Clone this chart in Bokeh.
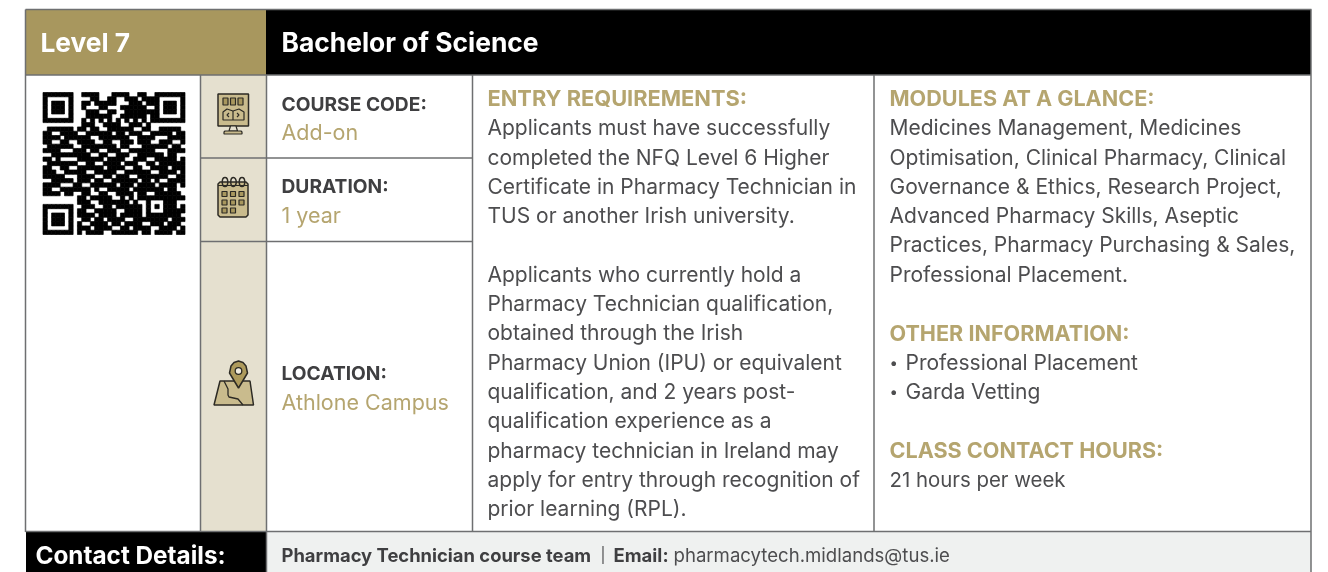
from bokeh.plotting import figure
from bokeh.embed import file_html
from bokeh.resources import INLINE
from bokeh.core.properties import value
from bokeh.models import Range1d

# ---------- content ----------
HEAD_LEFT = "Level 7"
HEAD_RIGHT = "Bachelor of Science"
FACT_LABELS = ["COURSE CODE:", "DURATION:", "LOCATION:"]
FACT_VALUES = ["Add-on", "1 year", "Athlone Campus"]
ENTRY_TITLE = "ENTRY REQUIREMENTS:"
ENTRY_LINES = ["Applicants must have successfully", "completed the NFQ Level 6 Higher",
               "Certificate in Pharmacy Technician in", "TUS or another Irish university.", "",
               "Applicants who currently hold a", "Pharmacy Technician qualification,",
               "obtained through the Irish", "Pharmacy Union (IPU) or equivalent",
               "qualification, and 2 years post-", "qualification experience as a",
               "pharmacy technician in Ireland may", "apply for entry through recognition of",
               "prior learning (RPL)."]
MOD_TITLE = "MODULES AT A GLANCE:"
MOD_LINES = ["Medicines Management, Medicines", "Optimisation, Clinical Pharmacy, Clinical",
             "Governance & Ethics, Research Project,", "Advanced Pharmacy Skills, Aseptic",
             "Practices, Pharmacy Purchasing & Sales,", "Professional Placement."]
OTHER_TITLE = "OTHER INFORMATION:"
OTHER_LINES = ["Professional Placement", "Garda Vetting"]
HOURS_TITLE = "CLASS CONTACT HOURS:"
HOURS_LINE = "21 hours per week"
CONTACT = "Contact Details:"
TEAM = "Pharmacy Technician course team"
EMAIL_LABEL = "Email:"
EMAIL = "pharmacytech.midlands@tus.ie"

QR = [
 "000000000111100011110011000000000",
 "000000000001100110011101110000000",
 "000000000110111110001110110000000",
 "000000000100011000111111000000000",
 "000000000011100110011111110000000",
 "000000000011111100111111010000000",
 "000000000101010101010101010000000",
 "000000000111001111001110100000000",
 "011111101101100111111001100111110",
 "110011110011111101101110011111011",
 "111101111110011111110011110001111",
 "110011001111001100111011100111001",
 "011111100111111110110001111110110",
 "111100011101100111001111110001111",
 "001111111110011001110011111101100",
 "110100001111110111100111001111101",
 "011111110011001111011100110111111",
 "110011001111110111100110011110111",
 "111001111100111110011111100111101",
 "111110001111001101110011111110011",
 "001111101110110011111101101001111",
 "111100011001111110111011110111101",
 "110011111110100111110111111101100",
 "111101100110011001111011001111110",
 "000000001101111100101011000001111",
 "000000001110011111110100000001100",
 "000000000111001101111110000001101",
 "000000001100111110011110000001111",
 "000000001111011110111110000001110",
 "000000000110110111100111111110111",
 "000000001001111011011110011101110",
 "000000001110111100110111100111101",
 "000000001011110011111101101111011",
]

GOLD_HEAD = "#a8975e"
GOLD_TEXT = "#b5a56f"
BEIGE = "#e5e0cf"
GREY = "#eff1f0"
RULE = "#6e6f71"
BODY = "#4d4d4f"
DARK = "#3f3f41"
FONT = "Inter"
ICON_LINE = "#2c2a24"
ICON_FILL = "#c9bb8d"

p = figure(width=1328, height=572, x_range=Range1d(0, 1328), y_range=Range1d(572, 0),
           min_border=0, outline_line_color=None, toolbar_location=None,
           output_backend="svg", background_fill_color="white", border_fill_color="white")
p.xaxis.visible = False
p.yaxis.visible = False
p.xgrid.visible = False
p.ygrid.visible = False
p.styles = {"position": "fixed", "left": "0", "top": "0"}


def box(l, t, r, b, color):
    p.quad(left=[l], right=[r], top=[t], bottom=[b], fill_color=color, line_color=None)


def rule(xs, ys):
    p.line(xs, ys, line_color=RULE, line_width=1.5)


def txt(x, y, s, size, color=BODY, style="normal"):
    p.text([x], [y], text=[s], text_font=value(FONT), text_font_size=f"{size}px",
           text_color=color, text_font_style=style, text_baseline="alphabetic", text_align="left")


# ---------- panels ----------
box(25.5, 9.5, 265.5, 74.5, GOLD_HEAD)
box(265.5, 9.5, 1310.5, 74.5, "black")
box(200, 74.5, 265.5, 531.5, BEIGE)
box(25.5, 531.5, 265.5, 572, "black")
box(266.5, 531.5, 1310.5, 572, GREY)

rule([25, 1311], [9, 9])
rule([25, 25], [9, 531.5])
rule([1310.5, 1310.5], [9, 572])
rule([25, 1310.5], [74.5, 74.5])
rule([25, 1310.5], [531, 531])
for x in (200, 266, 472, 873.5):
    rule([x, x], [74.5, 531.5])
for y in (157.5, 241):
    rule([200, 472], [y, y])
rule([266, 266], [531.5, 572])

# ---------- QR ----------
M = [[int(c) for c in row] for row in QR]


def stamp(r0, c0):
    for r in range(7):
        for c in range(7):
            edge = r in (0, 6) or c in (0, 6)
            core = 2 <= r <= 4 and 2 <= c <= 4
            M[r0 + r][c0 + c] = 1 if edge or core else 0


stamp(0, 0)
stamp(0, 26)
stamp(26, 0)
for r in range(5):
    for c in range(5):
        M[24 + r][24 + c] = 1 if r in (0, 4) or c in (0, 4) or (r == 2 and c == 2) else 0

q = 142.0 / 33
qx0, qy0 = 42.5, 92
L, R, T, B = [], [], [], []
for r, row in enumerate(M):
    for c, v in enumerate(row):
        if v:
            L.append(qx0 + c * q); R.append(qx0 + (c + 1) * q)
            T.append(qy0 + r * q); B.append(qy0 + (r + 1) * q)
p.quad(left=L, right=R, top=T, bottom=B, fill_color="black", line_color="black", line_width=0.7)


# ---------- icons ----------
def poly(xs, ys, fill=ICON_FILL, lw=1.5):
    p.patch(xs, ys, fill_color=fill, line_color=ICON_LINE, line_width=lw)


def small(l, t, w, h):
    poly([l, l + w, l + w, l], [t, t, t + h, t + h], fill="#a8975e", lw=1.2)


# monitor
poly([217.5, 248, 248, 217.5], [93.5, 93.5, 125.5, 125.5])
poly([230, 235.5, 237, 228.5], [125.5, 125.5, 130.5, 130.5], fill="#e5e0cf", lw=1.2)
poly([224.5, 240.5, 241.5, 241.5, 223.5, 223.5], [130.5, 130.5, 131.5, 133.5, 133.5, 131.5], lw=1.2)
for x in (222.5, 230, 237.5):
    small(x, 97.5, 5, 7)
poly([222.5, 226.5, 232.5, 238.5, 243.5, 243.5, 232.5, 222.5],
     [111.5, 108.5, 110.5, 108.5, 111.5, 119.5, 119.5, 119.5], lw=1.2)
p.line([232.5, 232.5], [110.5, 119.5], line_color=ICON_LINE, line_width=1.2)
p.line([228.5, 226.5, 228.5], [112.5, 114.5, 116.5], line_color=ICON_LINE, line_width=1.1)
p.line([236.5, 238.5, 236.5], [112.5, 114.5, 116.5], line_color=ICON_LINE, line_width=1.1)

# calendar
poly([219.5, 245.5, 247.5, 247.5, 245.5, 219.5, 217.5, 217.5],
     [181.5, 181.5, 183.5, 214.5, 216.5, 216.5, 214.5, 183.5])
for x in (224.5, 233, 241.5):
    p.ellipse([x], [181.5], width=5.5, height=9, fill_color=None, line_color=ICON_LINE, line_width=1.5)
p.line([217.5, 247.5], [185, 185], line_color=ICON_LINE, line_width=1.2)
for y in (191, 199.5, 207.5):
    for x in (221.5, 230, 238.5):
        if not (y == 207.5 and x == 238.5):
            small(x, y, 5, 5)

# map
poly([219.5, 249.5, 253, 213.5], [380.5, 380.5, 404.5, 404.5])
p.line([223.5, 227.5, 227.5, 228.5, 237.5, 242.5], [380.5, 388.5, 394.5, 396.5, 398.5, 404.5],
       line_color=ICON_LINE, line_width=1.3)
poly([238, 229, 230.5, 233.5, 238, 242.5, 245.5, 247],
     [387.5, 372.5, 365.5, 362, 360.5, 362, 365.5, 372.5], fill="#ad9a5c")
p.circle([238], [370.5], radius=3.3, fill_color="#f0ecdf", line_color=ICON_LINE, line_width=1.3)

# ---------- text ----------
txt(40, 41.5, HEAD_LEFT, 26.3, "white", "bold")
txt(281, 41.5, HEAD_RIGHT, 26.4, "white", "bold")

for label, val, yl, yv in zip(FACT_LABELS, FACT_VALUES, (103, 185.5, 372.5), (131, 214, 401)):
    txt(281, yl, label, 19.2, DARK, "bold")
    txt(281, yv, val, 21.5, GOLD_TEXT)

LINE = 29.3
TITLE = 21.8
TEXT = 21.0
txt(487, 97.5, ENTRY_TITLE, TITLE, GOLD_TEXT, "bold")
for i, s in enumerate(ENTRY_LINES):
    if s:
        txt(487, 127.2 + i * LINE, s, TEXT)

txt(889, 97.5, MOD_TITLE, 21.6, GOLD_TEXT, "bold")
for i, s in enumerate(MOD_LINES):
    txt(889, 127.2 + i * LINE, s, TEXT)

txt(889, 332.5, OTHER_TITLE, 21.6, GOLD_TEXT, "bold")
for i, s in enumerate(OTHER_LINES):
    txt(889, 362 + i * LINE, "•", 15)
    txt(905, 362 + i * LINE, s, TEXT)

txt(889, 449.5, HOURS_TITLE, 21.6, GOLD_TEXT, "bold")
txt(889, 479, HOURS_LINE, 20.4)

txt(35, 554, CONTACT, 24.3, "white", "bold")
txt(281, 554, TEAM, 18.4, DARK, "bold")
txt(600, 554, "|", 15, BODY)
txt(613, 554, EMAIL_LABEL, 18.5, DARK, "bold")
txt(673, 554, EMAIL, 18.6, BODY)

open("out.html", "w").write(file_html(p, INLINE))
